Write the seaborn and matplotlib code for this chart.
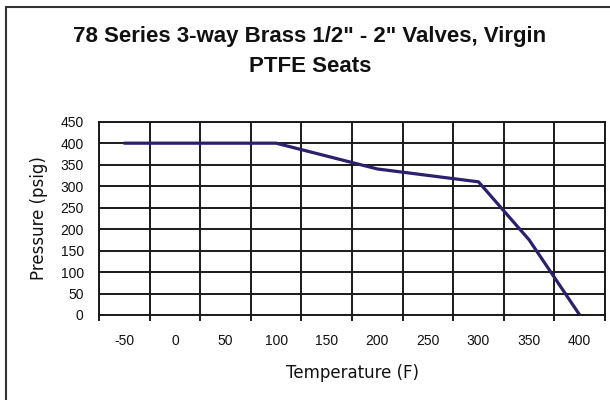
import numpy as np
import pandas as pd
import seaborn as sns
import matplotlib.pyplot as plt
from matplotlib.lines import Line2D
from matplotlib.ticker import FixedLocator

# data
temperature = [-50, 0, 50, 100, 150, 200, 250, 300, 350, 400]
pressure = [400, 400, 400, 400, 370, 340, 325, 310, 175, 0]
y_ticks = [0, 50, 100, 150, 200, 250, 300, 350, 400, 450]

title = "78 Series 3-way Brass 1/2\" - 2\" Valves, Virgin\nPTFE Seats"

df = pd.DataFrame({"Temperature (F)": temperature, "Pressure (psig)": pressure})

sns.set_style("white")
plt.rcParams["font.family"] = ["Liberation Sans", "DejaVu Sans"]

fig = plt.figure(figsize=(6.1, 4.0), dpi=100)
ax = fig.add_axes([99 / 610, 1 - 315 / 400, 506 / 610, (315 - 121.7) / 400])

sns.pointplot(data=df, x="Temperature (F)", y="Pressure (psig)", ax=ax,
              color="#2d1f6e", markers="", linewidth=2.3, errorbar=None)

n = len(temperature)
ax.set_xlim(-0.5, n - 0.5)
ax.set_ylim(0, 450)
ax.set_yticks(y_ticks)

# category boundaries get the gridlines and tick marks, labels sit between
ax.xaxis.set_minor_locator(FixedLocator(np.arange(n + 1) - 0.5))
ax.grid(False)
ax.grid(axis="y", which="major", color="#1a1a1a", linewidth=1.4)
ax.grid(axis="x", which="minor", color="#1a1a1a", linewidth=1.4)
ax.set_axisbelow(True)

ax.tick_params(axis="x", which="major", length=0, pad=14, labelsize=10, colors="#111111")
ax.tick_params(axis="x", which="minor", bottom=True, length=4.5, width=1.4, color="#1a1a1a", direction="out")
ax.tick_params(axis="y", length=0, pad=11, labelsize=10, colors="#111111")

for s in ax.spines.values():
    s.set_color("#1a1a1a")
    s.set_linewidth(1.4)

# the axis titles are set in a wide face, like the original
ax.set_xlabel("Temperature (F)", fontsize=12, labelpad=11, color="#111111", family="DejaVu Sans")
ax.set_ylabel("Pressure (psig)", fontsize=12, labelpad=9, color="#111111", family="DejaVu Sans")

fig.text(0.508, 1 - 51.5 / 400, title, ha="center", va="center",
         fontsize=16, fontweight="bold", linespacing=1.6, color="#111111")

# chart area frame (left and top edges visible)
fig.add_artist(Line2D([6 / 610, 6 / 610], [0, 1 - 6.5 / 400], transform=fig.transFigure,
                      color="#333333", linewidth=1.5))
fig.add_artist(Line2D([6 / 610, 1], [1 - 6.5 / 400, 1 - 6.5 / 400], transform=fig.transFigure,
                      color="#333333", linewidth=1.5))

fig.savefig("out.png", dpi=100)
